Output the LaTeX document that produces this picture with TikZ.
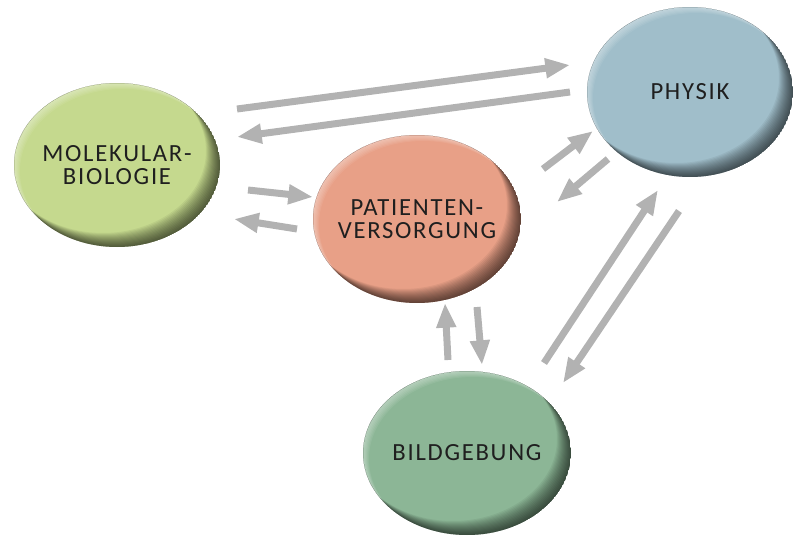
\documentclass[tikz,border=0pt]{standalone}
\usepackage{fontspec}
\setmainfont{Carlito}
\newfontfamily\blobfont[LetterSpace=7]{Carlito}
\usetikzlibrary{arrows.meta,shapes.geometric,backgrounds,calc}
\definecolor{molc}{RGB}{197,217,142}
\definecolor{patc}{RGB}{232,160,135}
\definecolor{phyc}{RGB}{160,190,202}
\definecolor{bilc}{RGB}{140,182,150}
\definecolor{arrc}{RGB}{178,178,178}

% #1 node name, #2 x radius (px), #3 y radius (px), #4 colour
\newcommand{\bevelfill}[4]{%
  \begin{scope}
    \clip (#1.center) ellipse [x radius=#2*0.75pt, y radius=#3*0.75pt];
    \fill[#4] (#1.center) ellipse [x radius=#2*0.75pt, y radius=#3*0.75pt];
    \foreach \s in {1,...,6}{
      \fill[white, opacity=0.07, even odd rule]
        (#1.center) ellipse [x radius=#2*0.75pt, y radius=#3*0.75pt]
        ($(#1.center)+(\s,\s)$) ellipse [x radius=#2*0.75pt, y radius=#3*0.75pt];
    }
    \foreach \s in {1,...,14}{
      \fill[black, opacity=0.055, even odd rule]
        (#1.center) ellipse [x radius=#2*0.75pt, y radius=#3*0.75pt]
        ($(#1.center)+(-\s,-\s)$) ellipse [x radius=#2*0.75pt, y radius=#3*0.75pt];
    }
  \end{scope}}

\begin{document}
\begin{tikzpicture}[x=0.75pt,y=-0.75pt,
  blob/.style={ellipse, inner sep=0pt, align=center,
    font=\blobfont\fontsize{18.5}{17}\selectfont, text=black!88},
  link/.style={draw=arrc, line width=5.25pt,
    -{Triangle[length=18.5pt,width=14pt]}}]
\useasboundingbox (0,0) rectangle (808,546);

\node[blob, minimum width=154.5pt, minimum height=123pt] (mol) at (117,165) {MOLEKULAR-\\BIOLOGIE};
\node[blob, minimum width=156pt, minimum height=126pt] (pat) at (417,219) {PATIENTEN-\\VERSORGUNG};
\node[blob, minimum width=154.5pt, minimum height=127.5pt] (phy) at (690,92) {PHYSIK};
\node[blob, minimum width=156pt, minimum height=123pt] (bil) at (467,453) {BILDGEBUNG};

\begin{pgfonlayer}{background}
  \bevelfill{mol}{103}{82}{molc}
  \bevelfill{pat}{104}{84}{patc}
  \bevelfill{phy}{103}{85}{phyc}
  \bevelfill{bil}{104}{82}{bilc}
\end{pgfonlayer}

\coordinate (a1s) at (237,109); \coordinate (a1e) at (570,65);
\coordinate (a2s) at (570,92);  \coordinate (a2e) at (237,137);
\coordinate (b1s) at (248,190); \coordinate (b1e) at (313,197);
\coordinate (b2s) at (297,229); \coordinate (b2e) at (234,219);
\coordinate (c1s) at (543,169); \coordinate (c1e) at (593,131);
\coordinate (c2s) at (608,159); \coordinate (c2e) at (557,202);
\coordinate (d1s) at (448,360); \coordinate (d1e) at (445,303);
\coordinate (d2s) at (477,307); \coordinate (d2e) at (482,365);
\coordinate (e1s) at (544,363); \coordinate (e1e) at (658,190);
\coordinate (e2s) at (679,211); \coordinate (e2e) at (563,383);

\draw[link] (a1s) -- (a1e);
\draw[link] (a2s) -- (a2e);
\draw[link] (b1s) -- (b1e);
\draw[link] (b2s) -- (b2e);
\draw[link] (c1s) -- (c1e);
\draw[link] (c2s) -- (c2e);
\draw[link] (d1s) -- (d1e);
\draw[link] (d2s) -- (d2e);
\draw[link] (e1s) -- (e1e);
\draw[link] (e2s) -- (e2e);
\end{tikzpicture}
\end{document}
